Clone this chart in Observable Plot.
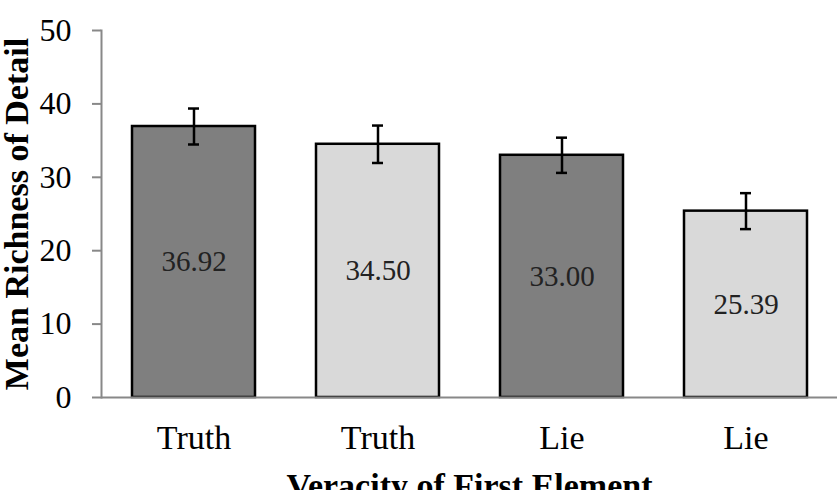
<!DOCTYPE html>
<html><head><meta charset="utf-8">
<script src="https://cdn.jsdelivr.net/npm/d3@7"></script>
<script src="https://cdn.jsdelivr.net/npm/@observablehq/plot@0.6"></script>
<style>
body{margin:0;background:#fff}
#chart svg{font-family:"Liberation Serif","Times New Roman",serif;background:#fff}
#chart svg text{font-family:"Liberation Serif","Times New Roman",serif}
g[aria-label="x-axis label"] text, g[aria-label="y-axis label"] text{font-weight:bold;font-size:34px;fill:#000}
</style></head><body><div id="chart"></div>
<script>
const categories = ["Truth", "Truth", "Lie", "Lie"];
const groups = ["Dark", "Light", "Dark", "Light"];
const means = [36.92, 34.50, 33.00, 25.39];
const errors = [2.45, 2.55, 2.40, 2.45];
const yTicks = [0, 10, 20, 30, 40, 50];
const xTitle = "Veracity of First Element";
const yTitle = "Mean Richness of Detail";

const data = means.map((m, i) => ({
  i, category: categories[i], group: groups[i], mean: m,
  lo: m - errors[i], hi: m + errors[i], label: m.toFixed(2)
}));

const serif = "'Liberation Serif', 'Times New Roman', serif";

const chart = Plot.plot({
  width: 837,
  height: 490,
  marginTop: 30,
  marginBottom: 93,
  marginLeft: 101,
  marginRight: 0,
  style: {fontFamily: serif, background: "#fff"},
  x: {type: "band", domain: d3.range(categories.length), range: [101, 838], paddingInner: 0.33, paddingOuter: 0.165},
  y: {domain: [0, 50]},
  color: {domain: ["Dark", "Light"], range: ["#7f7f7f", "#d9d9d9"]},
  marks: [
    Plot.barY(data, {x: "i", y: "mean", fill: "group", stroke: "#000", strokeWidth: 2.5}),
    Plot.ruleX(data, {x: "i", y1: "lo", y2: "hi", stroke: "#000", strokeWidth: 2.5}),
    Plot.tickY(data, {x: "i", y: "hi", stroke: "#000", strokeWidth: 2.5, insetLeft: 56, insetRight: 56}),
    Plot.tickY(data, {x: "i", y: "lo", stroke: "#000", strokeWidth: 2.5, insetLeft: 56, insetRight: 56}),
    Plot.text(data, {x: "i", y: d => d.mean / 2, text: "label", fontSize: 29, fontFamily: serif, fill: "#222"}),
    Plot.ruleY([0], {stroke: "#888", strokeWidth: 2}),
    Plot.frame({anchor: "left", stroke: "#888", strokeWidth: 2}),
    Plot.axisY({ticks: yTicks, tickSize: 9, tickPadding: 21, fontSize: 32, stroke: "#888", strokeWidth: 2, fill: "#000",
      label: yTitle, labelAnchor: "center", labelOffset: 98, labelArrow: "none"}),
    Plot.axisX({tickFormat: i => categories[i], tickSize: 0, tickPadding: 27, fontSize: 34, fill: "#000",
      label: xTitle, labelAnchor: "center", labelOffset: 99, labelArrow: "none"})
  ]
});
document.getElementById("chart").appendChild(chart);
</script></body></html>
